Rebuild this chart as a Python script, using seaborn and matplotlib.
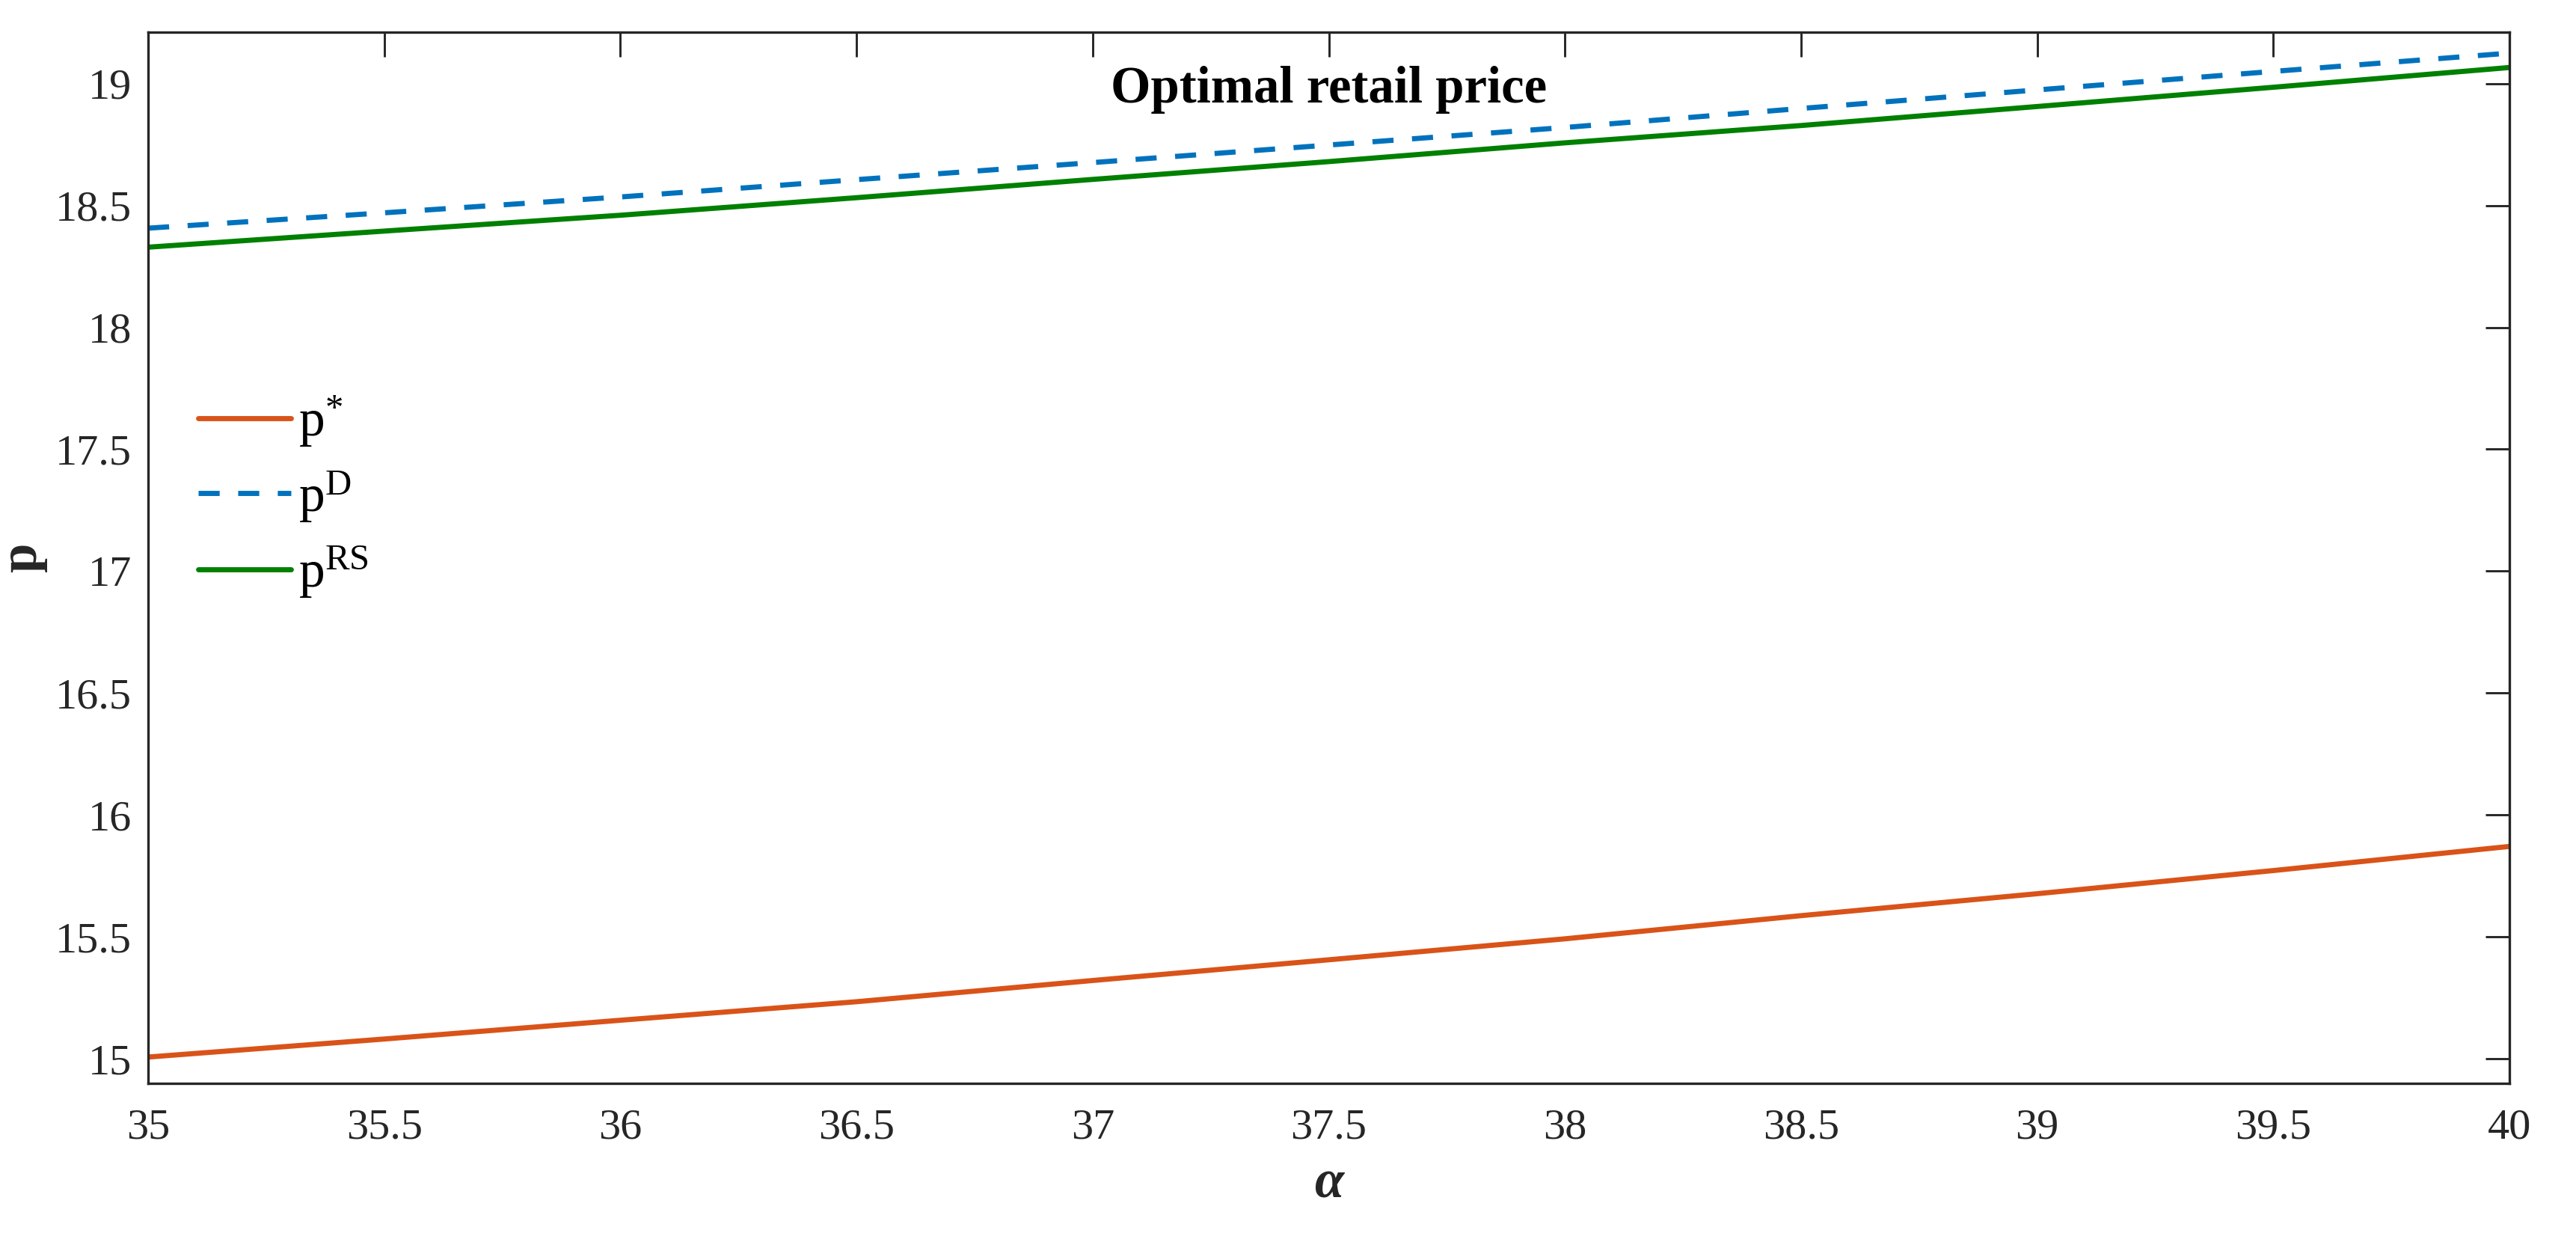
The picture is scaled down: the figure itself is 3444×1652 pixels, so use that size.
import numpy as np
import pandas as pd
import matplotlib
matplotlib.use("Agg")
import matplotlib.pyplot as plt
from matplotlib.ticker import FuncFormatter, FixedLocator
import seaborn as sns

# ---- data ----
alpha = [35, 35.5, 36, 36.5, 37, 37.5, 38, 38.5, 39, 39.5, 40]
p_star = [15.007, 15.081, 15.158, 15.234, 15.321, 15.406, 15.492, 15.587, 15.677, 15.772, 15.871]
p_D = [18.407, 18.470, 18.535, 18.606, 18.676, 18.748, 18.820, 18.898, 18.974, 19.050, 19.125]
p_RS = [18.329, 18.395, 18.460, 18.532, 18.607, 18.680, 18.757, 18.828, 18.906, 18.985, 19.066]

series_names = ["p*", "pD", "pRS"]
series_labels = [r"p$^{*}$", r"p$^{\mathrm{D}}$", r"p$^{\mathrm{RS}}$"]
x_ticks = [35, 35.5, 36, 36.5, 37, 37.5, 38, 38.5, 39, 39.5, 40]
y_ticks = [15, 15.5, 16, 16.5, 17, 17.5, 18, 18.5, 19]
title_text = "Optimal retail price"

df = pd.DataFrame({
    "alpha": alpha * 3,
    "p": p_star + p_D + p_RS,
    "series": [series_names[0]] * len(alpha) + [series_names[1]] * len(alpha) + [series_names[2]] * len(alpha),
})

# ---- style ----
sns.set_theme(style="white")
plt.rcParams["font.family"] = ["Liberation Serif", "DejaVu Serif"]
plt.rcParams["mathtext.fontset"] = "custom"
plt.rcParams["mathtext.rm"] = "Liberation Serif"
plt.rcParams["mathtext.it"] = "Liberation Serif:italic"
plt.rcParams["mathtext.bf"] = "Liberation Serif:bold"

DPI = 300
fig = plt.figure(figsize=(3445 / DPI, 1652 / DPI), dpi=DPI)
ax = fig.add_axes([198 / 3445, 1 - 1447.7 / 1652, (3355 - 198) / 3445, (1447.7 - 43.3) / 1652])

colors = {"p*": "#D95319", "pD": "#0072BD", "pRS": "#008000"}
styles = {"p*": "-", "pD": (0, (4.1, 3.6)), "pRS": "-"}
lw = 1.65

handles = []
for name, lab in zip(series_names, series_labels):
    sub = df[df["series"] == name]
    sns.lineplot(data=sub, x="alpha", y="p", ax=ax, color=colors[name],
                 linewidth=lw, estimator=None, sort=True, legend=False)
    line = ax.get_lines()[-1]
    line.set_linestyle(styles[name])
    line.set_label(lab)
    handles.append(line)

ax.set_xlim(35, 40)
ax.set_ylim(14.9, 19.21)
ax.xaxis.set_major_locator(FixedLocator(x_ticks))
ax.yaxis.set_major_locator(FixedLocator(y_ticks))
fmt = FuncFormatter(lambda v, pos: "%g" % v)
ax.xaxis.set_major_formatter(fmt)
ax.yaxis.set_major_formatter(fmt)

spine_c = "#262626"
for s in ax.spines.values():
    s.set_visible(True)
    s.set_color(spine_c)
    s.set_linewidth(0.8)
ax.tick_params(axis="both", which="major", direction="in", top=True, right=True,
               length=7.8, width=0.7, color=spine_c, labelcolor=spine_c,
               labelsize=14)
ax.tick_params(axis="x", pad=8.0)
ax.tick_params(axis="y", pad=5.3)

ax.set_xlabel("\u03b1", fontsize=17, fontweight="bold", fontstyle="italic",
              color=spine_c, labelpad=4)
ax.set_ylabel("p", fontsize=17, fontweight="bold", color=spine_c, labelpad=2.5)

ax.set_title(title_text, fontsize=16.5, fontweight="bold", color="black",
             y=0.9333, pad=0)

leg = ax.legend(handles=handles, labels=series_labels, loc="upper left",
                bbox_to_anchor=(0.0212, 0.656), frameon=False,
                fontsize=16.7, handlelength=1.78, handletextpad=0.14,
                labelspacing=0.39, borderpad=0, borderaxespad=0)
for t in leg.get_texts():
    t.set_color("black")

fig.savefig("out.png", dpi=DPI, facecolor="white")
